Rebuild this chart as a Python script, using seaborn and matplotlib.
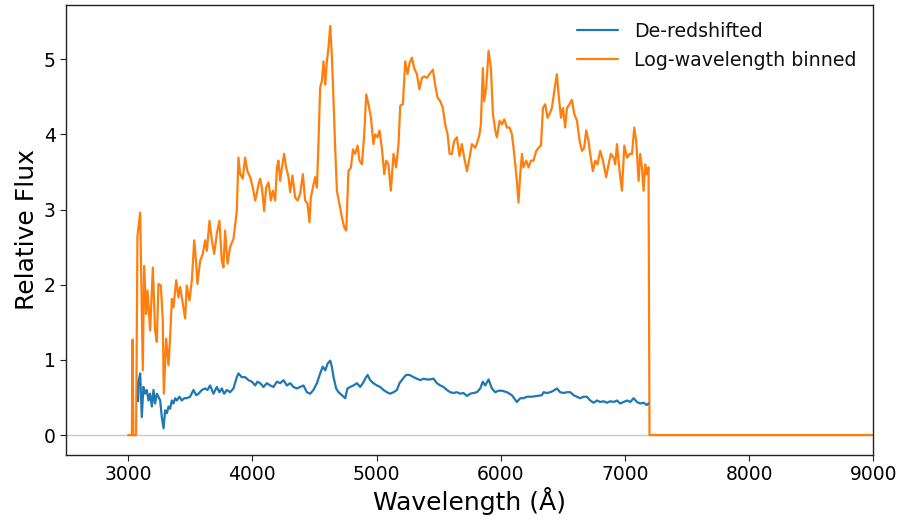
import matplotlib
matplotlib.use("Agg")
import matplotlib.pyplot as plt
import seaborn as sns
import pandas as pd

# (wavelength [Å], relative flux) samples of the rest-frame spectrum
deredshifted_points = [
    (3080, 0.45), (3083, 0.71), (3097, 0.82), (3110, 0.24), (3123, 0.64), (3137, 0.55),
    (3150, 0.60), (3164, 0.46), (3177, 0.55), (3191, 0.38), (3204, 0.60), (3217, 0.42),
    (3231, 0.55), (3244, 0.51), (3258, 0.46), (3271, 0.24), (3285, 0.09), (3298, 0.33),
    (3312, 0.29), (3325, 0.38), (3338, 0.35), (3352, 0.46), (3365, 0.42), (3379, 0.49),
    (3392, 0.46), (3413, 0.51), (3432, 0.46), (3451, 0.49), (3472, 0.49), (3499, 0.51),
    (3526, 0.60), (3548, 0.53), (3566, 0.55), (3594, 0.60), (3620, 0.62), (3639, 0.60),
    (3660, 0.66), (3687, 0.55), (3714, 0.64), (3735, 0.57), (3754, 0.62), (3773, 0.55),
    (3795, 0.60), (3821, 0.57), (3848, 0.62), (3875, 0.77), (3888, 0.82), (3915, 0.77),
    (3942, 0.77), (3969, 0.73), (3996, 0.71), (4023, 0.66), (4041, 0.71), (4063, 0.69),
    (4090, 0.64), (4117, 0.69), (4144, 0.66), (4170, 0.64), (4198, 0.71), (4224, 0.69),
    (4251, 0.73), (4278, 0.66), (4305, 0.69), (4331, 0.64), (4358, 0.62), (4385, 0.64),
    (4412, 0.66), (4439, 0.57), (4466, 0.55), (4492, 0.60), (4520, 0.69), (4546, 0.82),
    (4567, 0.91), (4587, 0.86), (4606, 0.95), (4627, 0.99), (4640, 0.91), (4654, 0.77),
    (4675, 0.62), (4694, 0.57), (4721, 0.53), (4748, 0.49), (4766, 0.62), (4788, 0.64),
    (4815, 0.66), (4842, 0.69), (4868, 0.64), (4890, 0.69), (4909, 0.75), (4928, 0.80),
    (4949, 0.73), (4975, 0.69), (5003, 0.66), (5030, 0.64), (5056, 0.60), (5083, 0.57),
    (5110, 0.55), (5137, 0.57), (5164, 0.60), (5185, 0.69), (5212, 0.75), (5238, 0.80),
    (5266, 0.80), (5298, 0.77), (5325, 0.75), (5352, 0.73), (5378, 0.75), (5405, 0.74),
    (5432, 0.74), (5459, 0.75), (5486, 0.69), (5513, 0.66), (5539, 0.64), (5567, 0.60),
    (5593, 0.57), (5620, 0.56), (5647, 0.57), (5674, 0.55), (5700, 0.56), (5728, 0.52),
    (5754, 0.55), (5781, 0.56), (5808, 0.57), (5835, 0.62), (5856, 0.71), (5875, 0.66),
    (5902, 0.74), (5929, 0.62), (5956, 0.57), (5983, 0.59), (6010, 0.59), (6050, 0.57),
    (6090, 0.53), (6130, 0.44), (6157, 0.49), (6183, 0.49), (6211, 0.51), (6251, 0.51),
    (6291, 0.52), (6331, 0.53), (6345, 0.57), (6371, 0.56), (6399, 0.57), (6425, 0.59),
    (6452, 0.62), (6479, 0.57), (6506, 0.56), (6533, 0.57), (6560, 0.57), (6587, 0.53),
    (6614, 0.51), (6640, 0.49), (6667, 0.51), (6694, 0.51), (6721, 0.46), (6748, 0.43),
    (6775, 0.46), (6801, 0.44), (6828, 0.45), (6855, 0.43), (6882, 0.45), (6909, 0.44),
    (6936, 0.46), (6962, 0.42), (6989, 0.44), (7017, 0.46), (7043, 0.44), (7070, 0.49),
    (7097, 0.44), (7123, 0.42), (7150, 0.43), (7177, 0.40), (7190, 0.42),
]

# (wavelength [Å], relative flux) after rebinning onto the log-wavelength grid
log_binned_points = [
    (3000, 0.00), (3030, 0.00), (3036, 1.27), (3042, 0.00), (3064, 0.00), (3075, 2.65),
    (3097, 2.96), (3118, 0.86), (3129, 2.25), (3145, 1.61), (3156, 1.92), (3177, 1.39),
    (3199, 2.23), (3217, 1.39), (3231, 1.24), (3244, 2.01), (3263, 1.99), (3279, 1.53),
    (3287, 0.55), (3306, 1.28), (3325, 0.93), (3338, 1.30), (3352, 1.81), (3365, 1.70),
    (3387, 2.06), (3405, 1.83), (3419, 1.97), (3440, 1.75), (3459, 1.55), (3472, 1.99),
    (3494, 1.79), (3513, 2.06), (3532, 2.59), (3548, 2.28), (3558, 2.01), (3580, 2.32),
    (3601, 2.41), (3620, 2.59), (3634, 2.45), (3655, 2.85), (3674, 2.59), (3693, 2.41),
    (3714, 2.68), (3735, 2.85), (3754, 2.32), (3767, 2.23), (3781, 2.72), (3800, 2.28),
    (3821, 2.50), (3848, 2.61), (3875, 2.98), (3888, 3.69), (3902, 3.47), (3923, 3.41),
    (3942, 3.69), (3960, 3.51), (3983, 3.43), (4004, 3.29), (4023, 3.12), (4036, 3.21),
    (4050, 3.34), (4063, 3.41), (4077, 3.29), (4095, 2.98), (4111, 3.29), (4130, 3.36),
    (4149, 3.12), (4165, 3.25), (4184, 3.12), (4198, 3.56), (4210, 3.65), (4224, 3.38),
    (4238, 3.56), (4256, 3.74), (4272, 3.56), (4291, 3.43), (4305, 3.23), (4323, 3.45),
    (4345, 3.16), (4364, 3.12), (4385, 3.21), (4407, 3.47), (4425, 3.12), (4444, 3.08),
    (4460, 2.83), (4471, 3.16), (4487, 3.29), (4506, 3.43), (4520, 3.29), (4533, 3.91),
    (4546, 4.62), (4560, 4.71), (4573, 4.97), (4587, 4.66), (4600, 4.97), (4613, 5.15),
    (4627, 5.44), (4640, 5.06), (4654, 4.44), (4667, 3.82), (4681, 3.25), (4702, 3.07),
    (4721, 2.90), (4740, 2.76), (4756, 2.72), (4774, 3.51), (4794, 3.56), (4810, 3.80),
    (4828, 3.74), (4847, 3.85), (4863, 3.65), (4882, 3.60), (4901, 4.00), (4917, 4.53),
    (4935, 4.40), (4955, 4.22), (4975, 3.87), (4989, 4.00), (5008, 3.96), (5024, 4.05),
    (5043, 3.82), (5062, 3.47), (5078, 3.65), (5096, 3.60), (5115, 3.25), (5137, 3.74),
    (5158, 3.56), (5177, 3.87), (5191, 4.38), (5212, 4.40), (5231, 4.97), (5250, 4.80),
    (5266, 4.95), (5285, 5.02), (5303, 4.88), (5325, 4.80), (5345, 4.60), (5365, 4.75),
    (5384, 4.77), (5405, 4.75), (5426, 4.80), (5454, 4.86), (5472, 4.66), (5491, 4.49),
    (5513, 4.44), (5534, 4.35), (5553, 4.13), (5572, 4.00), (5588, 3.74), (5607, 3.74),
    (5625, 3.91), (5647, 3.96), (5668, 3.71), (5687, 3.87), (5706, 3.69), (5728, 3.51),
    (5749, 3.69), (5768, 3.87), (5795, 3.82), (5814, 3.91), (5829, 4.00), (5840, 4.13),
    (5856, 4.88), (5867, 4.44), (5883, 4.62), (5902, 5.11), (5921, 4.88), (5937, 4.27),
    (5956, 4.05), (5969, 3.96), (5991, 4.18), (6010, 4.13), (6028, 4.20), (6050, 4.09),
    (6071, 4.09), (6090, 4.00), (6103, 3.82), (6117, 3.60), (6130, 3.38), (6143, 3.09),
    (6157, 3.47), (6171, 3.74), (6183, 3.56), (6205, 3.65), (6224, 3.56), (6243, 3.65),
    (6264, 3.65), (6286, 3.78), (6305, 3.82), (6324, 3.85), (6340, 4.35), (6358, 4.40),
    (6377, 4.22), (6393, 4.27), (6412, 4.35), (6431, 4.57), (6452, 4.80), (6466, 4.53),
    (6485, 4.22), (6501, 4.35), (6519, 4.09), (6533, 4.35), (6554, 4.40), (6573, 4.46),
    (6592, 4.27), (6614, 4.18), (6635, 3.91), (6654, 3.78), (6672, 3.82), (6688, 4.05),
    (6707, 3.91), (6720, 3.74), (6742, 3.51), (6761, 3.65), (6779, 3.60), (6801, 3.78),
    (6823, 3.65), (6849, 3.43), (6868, 3.60), (6887, 3.74), (6909, 3.69), (6922, 3.60),
    (6936, 3.87), (6957, 3.51), (6976, 3.25), (6995, 3.85), (7017, 3.69), (7038, 3.74),
    (7057, 3.74), (7075, 4.09), (7091, 3.91), (7110, 3.38), (7123, 3.74), (7137, 3.56),
    (7150, 3.25), (7164, 3.60), (7177, 3.47), (7190, 3.56), (7198, 0.00), (9000, 0.00),
]

series_labels = ["De-redshifted", "Log-wavelength binned"]
x_ticks = [3000, 4000, 5000, 6000, 7000, 8000, 9000]
y_ticks = [0, 1, 2, 3, 4, 5]

sns.set_style("ticks")
plt.rcParams["font.family"] = ["DejaVu Sans"]

blue_df = pd.DataFrame(deredshifted_points, columns=["wavelength", "flux"])
orange_df = pd.DataFrame(log_binned_points, columns=["wavelength", "flux"])

fig = plt.figure(figsize=(9.16, 5.2), dpi=100)
ax = fig.add_axes([0.0721, 0.125, 0.8813, 0.8654])

ax.axhline(0, color="#c8c8c8", lw=1.0, zorder=1)
sns.lineplot(data=orange_df, x="wavelength", y="flux", ax=ax, color="#ff7f0e",
             lw=1.6, estimator=None, sort=False, label=series_labels[1], zorder=2)
sns.lineplot(data=blue_df, x="wavelength", y="flux", ax=ax, color="#1f77b4",
             lw=1.6, estimator=None, sort=False, label=series_labels[0], zorder=3)

ax.set_xlim(2500, 9000)
ax.set_ylim(-0.265, 5.72)
ax.set_xticks(x_ticks)
ax.set_yticks(y_ticks)
ax.tick_params(labelsize=13.5, length=4, color="#222222", labelcolor="black")
ax.set_xlabel("Wavelength (Å)", fontsize=18, color="black", labelpad=2)
ax.set_ylabel("Relative Flux", fontsize=18, color="black", labelpad=3)
for s in ax.spines.values():
    s.set_color("#222222")
    s.set_linewidth(1.0)

handles, labels = ax.get_legend_handles_labels()
order = [labels.index(l) for l in series_labels]
ax.legend([handles[i] for i in order], [labels[i] for i in order],
          loc="upper right", frameon=False, fontsize=13.7, handlelength=2.2,
          labelcolor="#111111")

fig.savefig("out.png", dpi=100)
